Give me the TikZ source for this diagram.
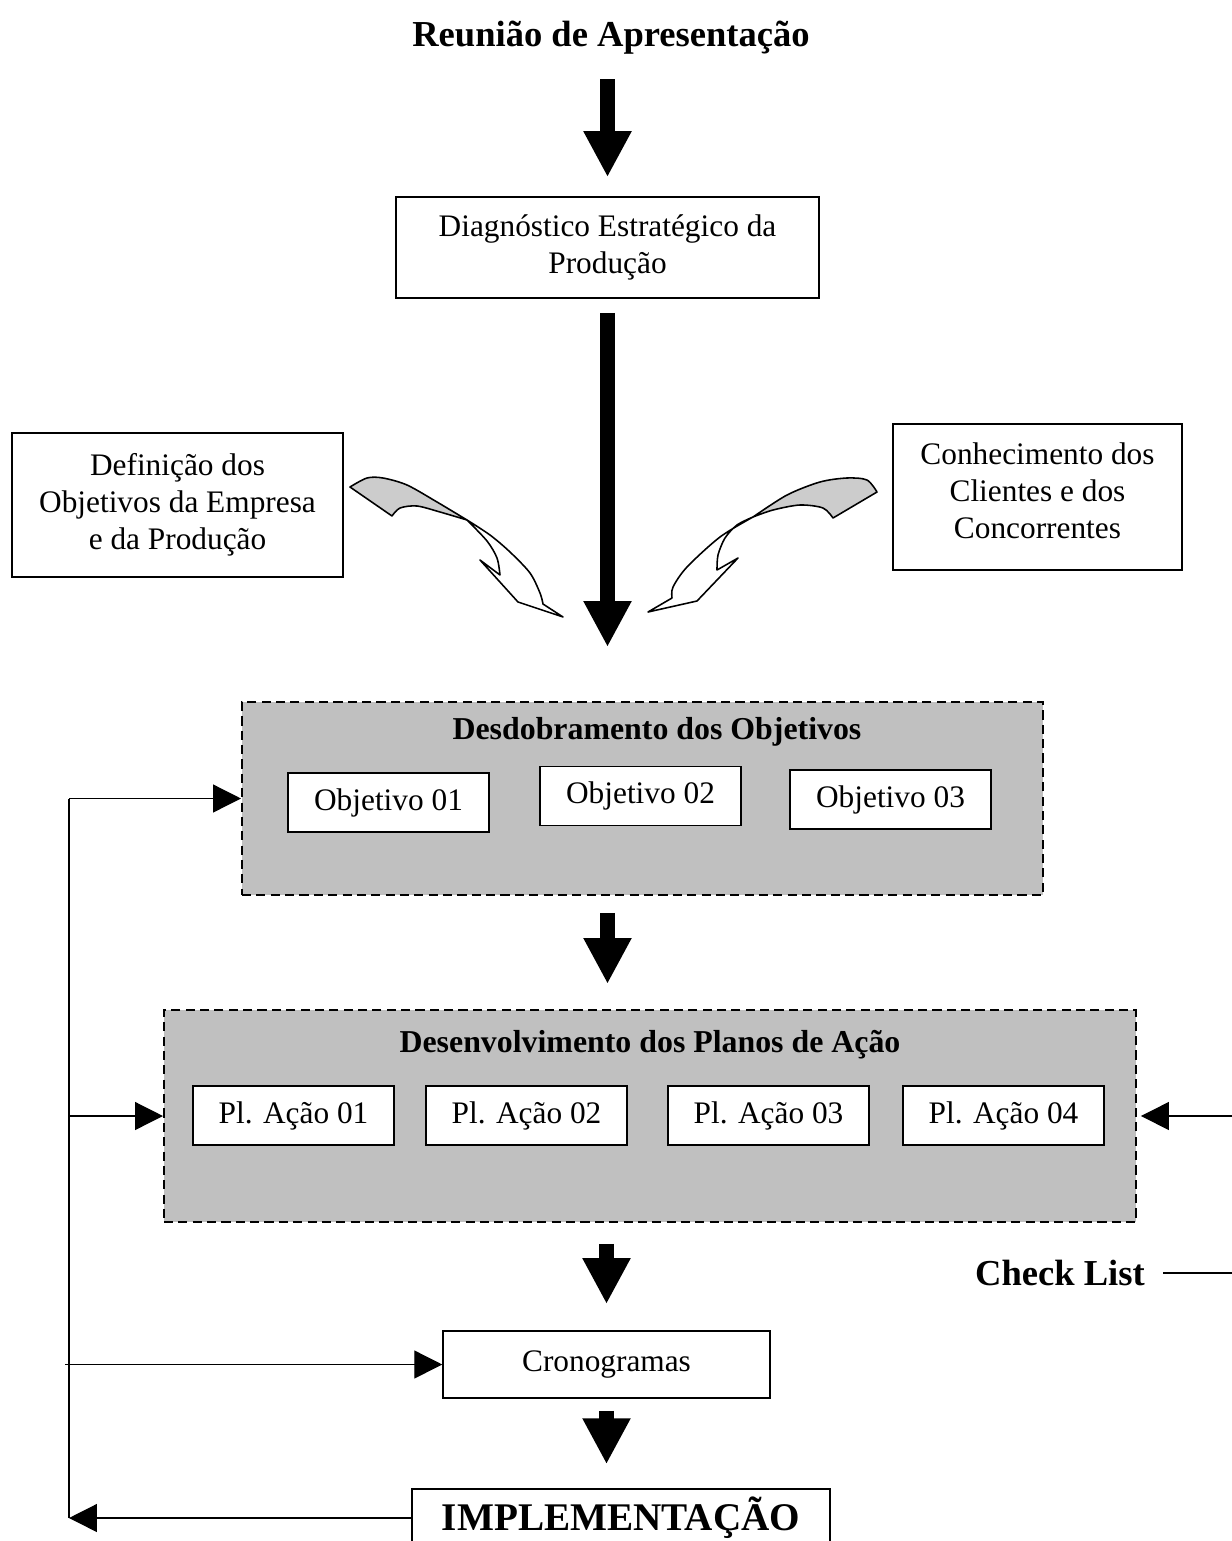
\documentclass[tikz,border=0pt]{standalone}
\usepackage{fontspec}
\setmainfont{Liberation Serif}
\usetikzlibrary{arrows.meta,positioning}

\begin{document}
\begin{tikzpicture}[x=0.383pt,y=-0.383pt,
    box/.style={draw,line width=0.6pt,fill=white,align=center,inner sep=0pt,
      font=\fontsize{12}{14.2}\selectfont},
    grouping/.style={draw,dash pattern=on 3.5pt off 2pt,line width=0.75pt,
      fill=groupgray,inner sep=0pt},
    heading/.style={font=\fontsize{12.2}{14}\selectfont\bfseries,inner sep=0pt},
    bigarrow/.style={line width=5.4pt,-{Triangle[length=17.6pt,width=17.2pt]}},
    feed/.style={line width=0.5pt,-{Triangle[length=10.7pt,width=10.7pt]}},
    ribbon/.style={line width=0.6pt,line join=round}]
    % Define colors
    \definecolor{groupgray}{RGB}{192,192,192}
    \definecolor{ribbongray}{RGB}{204,204,204}

    \useasboundingbox (0,0) rectangle (1231,1541);

    % Title and diagnosis
    \node[font=\fontsize{14}{16}\selectfont\bfseries,inner sep=0pt,anchor=base] (title) at (611,47) {Reunião de Apresentação};
    \node[box,minimum width=162pt,minimum height=38.7pt] (diag) at (607.5,247.5) {Diagnóstico Estratégico da\\Produção};

    % Side inputs
    \node[box,minimum width=126.8pt,minimum height=55.2pt] (defin) at (177.5,505) {Definição dos\\Objetivos da Empresa\\e da Produção};
    \node[box,minimum width=110.7pt,minimum height=55.9pt,text depth=4.6pt] (conhec) at (1037.5,497) {Conhecimento dos\\Clientes e dos\\Concorrentes};

    % Objectives
    \node[grouping,minimum width=306.8pt,minimum height=73.9pt] (desdob) at (642.5,798.5) {};
    \node[heading] (desdobtitle) at (657,732) {Desdobramento dos Objetivos};
    \foreach \i/\x/\y in {01/388.5/802.5, 02/640.5/796, 03/890.5/799.5}
        \node[box,minimum width=77pt,minimum height=22.6pt] (obj\i) at (\x,\y) {Objetivo \i};

    % Action plans
    \node[grouping,minimum width=372.3pt,minimum height=81.2pt] (desenv) at (650,1116) {};
    \node[heading] (desenvtitle) at (650,1045) {Desenvolvimento dos Planos de Ação};
    \foreach \i/\x in {01/293.5, 02/526.5, 03/768.5, 04/1003.5}
        \node[box,minimum width=77pt,minimum height=22.6pt] (pl\i) at (\x,1115.5) {Pl. Ação \i};

    % Schedule and implementation
    \node[box,minimum width=125.2pt,minimum height=25.7pt] (crono) at (606.5,1364.5) {Cronogramas};
    \node[box,font=\fontsize{15}{17}\selectfont\bfseries,minimum width=160.1pt,minimum height=22.2pt] (impl) at (621,1518) {IMPLEMENTAÇÃO};
    \node[font=\fontsize{14}{16}\selectfont\bfseries,inner sep=0pt] (checklist) at (1060,1273) {Check List};

    % Main flow
    \draw[bigarrow,shorten <=12.3pt,shorten >=7.3pt] (title.base -| diag.north) -- (diag.north);
    \draw[bigarrow,shorten <=5.4pt,shorten >=20.7pt] (diag.south) -- (diag.south |- desdob.north);
    \draw[bigarrow,shorten <=6.5pt,shorten >=9.6pt] (diag.south |- desdob.south) -- (diag.south |- desenv.north);
    \draw[bigarrow,shorten <=8pt,shorten >=10pt] (crono.north |- desenv.south) -- (crono.north);
    \draw[bigarrow,shorten <=4.6pt,shorten >=9.2pt] (crono.south) -- (crono.south |- impl.north);

    % Feedback loop
    \coordinate (bus) at (69,793);
    \draw[feed] (impl.west) -- (impl.west -| bus);
    \draw[line width=0.5pt] (impl.west -| bus) -- (bus |- desdob.west);
    \draw[feed] (bus |- desdob.west) -- (desdob.west);
    \draw[feed] (bus |- desenv.west) -- (desenv.west);
    \draw[feed] ([xshift=-1.5pt]bus |- crono.west) -- (crono.west);
    \draw[feed,shorten >=1.5pt] ([xshift=6.9pt]checklist.east) -- ++(75,0) |- (desenv.east);

    % Curved ribbon arrows
    \filldraw[ribbon,fill=white] plot[smooth] coordinates {(467,520) (490,535) (510,552) (530,573) (540,593) (543,604)}
        -- (563,617) -- (518,602) -- (480,560) -- plot[smooth] coordinates {(500,575) (497,558) (487,541) (467,520)} -- cycle;
    \filldraw[ribbon,fill=ribbongray] plot[smooth] coordinates {(350,487) (367,478) (383,478) (407,485) (437,502) (467,520)}
        -- plot[smooth] coordinates {(467,520) (440,512) (417,506) (400,508) (392,516)} -- cycle;
    \filldraw[ribbon,fill=white] plot[smooth] coordinates {(753,517) (720,537) (687,567) (673,587) (672,598)}
        -- (648,612) -- (697,601) -- (738,558) -- plot[smooth] coordinates {(717,570) (718,555) (725,538) (737,525) (753,517)} -- cycle;
    \filldraw[ribbon,fill=ribbongray] plot[smooth] coordinates {(877,492) (867,480) (847,478) (820,482) (787,495) (753,517)}
        -- plot[smooth] coordinates {(753,517) (773,510) (800,505) (823,508) (833,518)} -- cycle;
\end{tikzpicture}
\end{document}
